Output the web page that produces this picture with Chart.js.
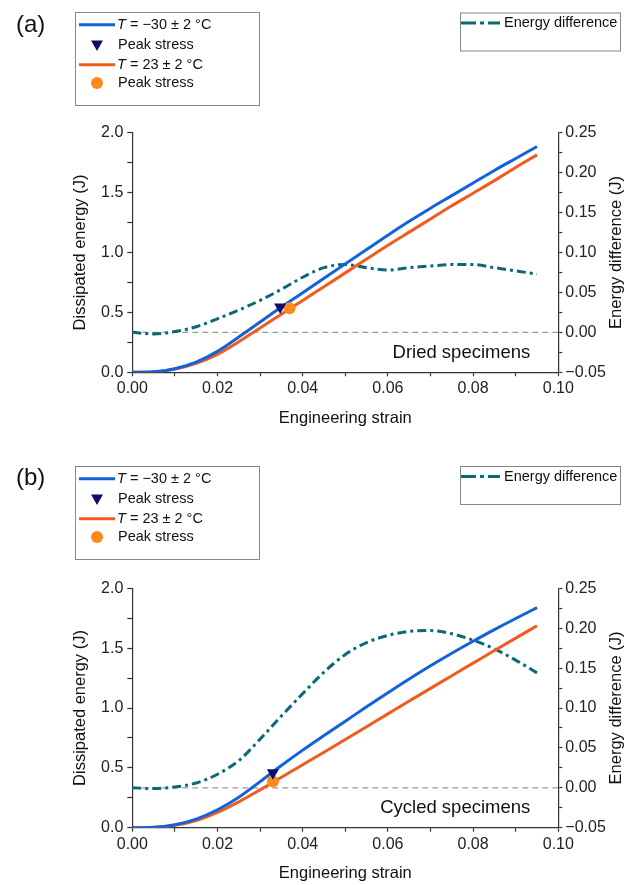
<!DOCTYPE html>
<html>
<head>
<meta charset="utf-8">
<script src="https://cdn.jsdelivr.net/npm/chart.js@4.4.1/dist/chart.umd.min.js"></script>
<style>
  body { margin: 0; background: #fff; width: 634px; height: 885px; overflow: hidden; position: relative; }
  canvas { position: absolute; left: 0; }
  #cA { top: 0; }
  #cB { top: 440px; }
</style>
</head>
<body>
<canvas id="cA" width="634" height="440"></canvas>
<canvas id="cB" width="634" height="445"></canvas>
<script>
// engineering strain samples (shared by both panels)
const strain = [0, 0.005, 0.01, 0.015, 0.02, 0.025, 0.03, 0.035, 0.04, 0.045,
                0.05, 0.055, 0.06, 0.065, 0.07, 0.075, 0.08, 0.085, 0.09, 0.095];

// (a) dried specimens
const coldA = [0, 0.004, 0.03, 0.085, 0.175, 0.295, 0.42, 0.545, 0.665, 0.785,
               0.905, 1.025, 1.145, 1.26, 1.37, 1.475, 1.58, 1.685, 1.785, 1.885];
const warmA = [0, 0.003, 0.027, 0.075, 0.15, 0.255, 0.37, 0.485, 0.6, 0.715,
               0.83, 0.945, 1.06, 1.17, 1.28, 1.39, 1.495, 1.6, 1.71, 1.815];
const diffA = [0, -0.002, 0.001, 0.007, 0.017, 0.028, 0.040, 0.054, 0.069, 0.081,
               0.085, 0.081, 0.078, 0.081, 0.083, 0.085, 0.085, 0.081, 0.077, 0.073];
const peakStrainA = [0.0347, 0.0369];
const peakEnergyA = [0.545, 0.535];

// (b) cycled specimens
const coldB = [0, 0.003, 0.025, 0.072, 0.15, 0.255, 0.385, 0.52, 0.648, 0.77,
               0.89, 1.01, 1.128, 1.243, 1.353, 1.458, 1.558, 1.655, 1.748, 1.838];
const warmB = [0, 0.002, 0.02, 0.06, 0.128, 0.216, 0.316, 0.421, 0.526, 0.631,
               0.737, 0.844, 0.951, 1.058, 1.164, 1.27, 1.375, 1.48, 1.584, 1.687];
const diffB = [0, -0.001, 0.001, 0.006, 0.017, 0.034, 0.061, 0.090, 0.118, 0.145,
               0.167, 0.182, 0.191, 0.196, 0.197, 0.193, 0.185, 0.174, 0.160, 0.144];
const peakStrainB = [0.033, 0.033];
const peakEnergyB = [0.46, 0.385];

const FONT = "'Liberation Sans', Arial, sans-serif";
const BLUE = '#1262d9', ORANGE = '#f25b1f', NAVY = '#0c0c6e', DOT = '#ff8a1c', TEAL = '#0b6977';
const AX = '#333';
const DASHDOT = [9, 4, 3, 4];

Chart.defaults.font.family = FONT;
Chart.defaults.font.size = 16;
Chart.defaults.color = '#222';

function pts(xs, ys) { return xs.map((x, i) => ({ x: x, y: ys[i] })); }
function fmt(v, d) {
  if (Math.abs(v) < 1e-9) v = 0;
  return v.toFixed(d).replace('-', '\u2212');
}

function tri(ctx, x, y) {
  ctx.beginPath();
  ctx.moveTo(x - 6, y - 3.5);
  ctx.lineTo(x + 6, y - 3.5);
  ctx.lineTo(x, y + 7);
  ctx.closePath();
  ctx.fill();
}

function seg(ctx, x1, x2, y, color, dash) {
  ctx.save();
  ctx.strokeStyle = color;
  ctx.lineWidth = 3;
  ctx.setLineDash(dash || []);
  ctx.beginPath();
  ctx.moveTo(x1, y);
  ctx.lineTo(x2, y);
  ctx.stroke();
  ctx.restore();
}

function tempLabel(ctx, x, y, rest) {
  ctx.font = 'italic 14.5px ' + FONT;
  ctx.fillText('T', x, y);
  const w = ctx.measureText('T').width;
  ctx.font = '14.5px ' + FONT;
  ctx.fillText(rest, x + w, y);
}

// legends, panel tag, axis titles and the specimen note
const decor = {
  id: 'decor',
  afterDraw(chart, args, o) {
    const ctx = chart.ctx, a = chart.chartArea;
    ctx.save();
    ctx.fillStyle = '#111';
    ctx.textBaseline = 'middle';
    ctx.textAlign = 'left';

    ctx.font = '24px ' + FONT;
    ctx.fillText(o.tag, 16, o.tagY);

    // main legend
    const t = o.legY;
    ctx.strokeStyle = '#888';
    ctx.lineWidth = 1;
    ctx.strokeRect(75.5, t + 0.5, 184, 93);
    seg(ctx, 79, 115, t + 12.7, BLUE);
    tempLabel(ctx, 117, t + 12.7, ' = \u221230 \u00b1 2 \u00b0C');
    ctx.fillStyle = NAVY;
    tri(ctx, 97, t + 32);
    ctx.fillStyle = '#111';
    ctx.font = '14.5px ' + FONT;
    ctx.fillText('Peak stress', 118, t + 33);
    seg(ctx, 79, 115, t + 52.7, ORANGE);
    tempLabel(ctx, 117, t + 52.7, ' = 23 \u00b1 2 \u00b0C');
    ctx.fillStyle = DOT;
    ctx.beginPath();
    ctx.arc(97, t + 71, 6, 0, Math.PI * 2);
    ctx.fill();
    ctx.fillStyle = '#111';
    ctx.font = '14.5px ' + FONT;
    ctx.fillText('Peak stress', 118, t + 71);

    // energy difference legend
    const e = o.edY;
    ctx.strokeStyle = '#888';
    ctx.strokeRect(460.5, e + 0.5, 160, 38);
    seg(ctx, 461, 500, e + 10.5, TEAL, [15, 4, 4, 4]);
    ctx.fillText('Energy difference', 504, e + 10.5);

    // axis titles
    ctx.font = '16.5px ' + FONT;
    ctx.textAlign = 'center';
    const my = (a.top + a.bottom) / 2;
    ctx.fillText('Engineering strain', (a.left + a.right) / 2, a.bottom + 46);
    ctx.save();
    ctx.translate(80, my);
    ctx.rotate(-Math.PI / 2);
    ctx.fillText('Dissipated energy (J)', 0, 0);
    ctx.restore();
    ctx.save();
    ctx.translate(616, my);
    ctx.rotate(-Math.PI / 2);
    ctx.fillText('Energy difference (J)', 0, 0);
    ctx.restore();

    ctx.font = '18.5px ' + FONT;
    ctx.textAlign = 'right';
    ctx.fillText(o.note, a.right - 28, a.bottom - 19.5);
    ctx.restore();
  }
};

function axisLook(len) {
  return {
    grid: { drawOnChartArea: false, tickLength: len, tickColor: AX, tickWidth: 1.2 },
    border: { color: AX, width: 1.2 }
  };
}

function makeScales(xH) {
  return {
    x: Object.assign({
      type: 'linear', min: 0, max: 0.1,
      afterFit(s) { s.height = xH; },
      ticks: { stepSize: 0.01, autoSkip: false, maxRotation: 0, padding: 3,
               callback: v => Math.round(v * 100) % 2 === 0 ? fmt(v, 2) : '' }
    }, axisLook(4)),
    y: Object.assign({
      position: 'left', min: 0, max: 2,
      afterFit(s) { s.width = 132.3; },
      ticks: { stepSize: 0.25, autoSkip: false, padding: 4,
               callback: v => Math.round(v * 4) % 2 === 0 ? fmt(v, 1) : '' }
    }, axisLook(5)),
    y2: Object.assign({
      position: 'right', min: -0.05, max: 0.25,
      afterFit(s) { s.width = 75.7; },
      ticks: { stepSize: 0.025, autoSkip: false, padding: 3,
               callback: v => Math.round(v * 40) % 2 === 0 ? fmt(v, 2) : '' }
    }, axisLook(4))
  };
}

function makeSets(cold, warm, diff, ps, pe) {
  const line = { pointRadius: 0, borderWidth: 3, fill: false, cubicInterpolationMode: 'monotone' };
  return [
    { data: [{ x: ps[0], y: pe[0] }], yAxisID: 'y', showLine: false, pointStyle: 'triangle',
      rotation: 180, pointRadius: 7, backgroundColor: NAVY, borderColor: NAVY, borderWidth: 0, order: 0 },
    { data: [{ x: ps[1], y: pe[1] }], yAxisID: 'y', showLine: false, pointStyle: 'circle',
      pointRadius: 6, backgroundColor: DOT, borderColor: DOT, borderWidth: 0, order: 1 },
    Object.assign({ data: pts(strain, cold), yAxisID: 'y', borderColor: BLUE, order: 2 }, line),
    Object.assign({ data: pts(strain, warm), yAxisID: 'y', borderColor: ORANGE, order: 3 }, line),
    Object.assign({ data: pts(strain, diff), yAxisID: 'y2', borderColor: TEAL, borderDash: DASHDOT, order: 4 }, line),
    { data: [{ x: 0, y: 0 }, { x: 0.1, y: 0 }], yAxisID: 'y2', borderColor: '#999', borderWidth: 1.3,
      borderDash: [6, 4], pointRadius: 0, order: 5 }
  ];
}

function makeChart(id, sets, padTop, xH, deco) {
  return new Chart(document.getElementById(id), {
    type: 'line',
    data: { datasets: sets },
    options: {
      responsive: false,
      animation: false,
      devicePixelRatio: 1,
      layout: { padding: { top: padTop, left: 0, right: 0, bottom: 0 } },
      scales: makeScales(xH),
      plugins: { legend: { display: false }, tooltip: { enabled: false }, decor: deco }
    },
    plugins: [decor]
  });
}

makeChart('cA', makeSets(coldA, warmA, diffA, peakStrainA, peakEnergyA), 132.7, 67.7,
  { tag: '(a)', tagY: 25, legY: 12, edY: 12.5, note: 'Dried specimens' });
makeChart('cB', makeSets(coldB, warmB, diffB, peakStrainB, peakEnergyB), 148.3, 57.3,
  { tag: '(b)', tagY: 38, legY: 26, edY: 26, note: 'Cycled specimens' });
</script>
</body>
</html>
